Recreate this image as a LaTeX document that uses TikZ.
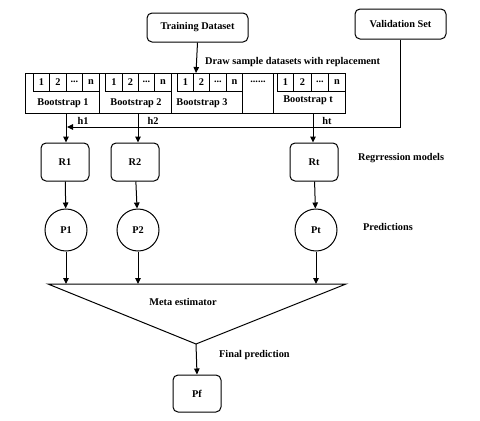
\documentclass[tikz,border=0pt]{standalone}
\usepackage{fontspec}
\setmainfont{Liberation Serif}
\usetikzlibrary{arrows.meta}
\begin{document}
\begin{tikzpicture}[x=1pt,y=-1pt,
  every node/.style={font=\bfseries\fontsize{10.3}{12}\selectfont, inner sep=0pt},
  rbox/.style={draw, line width=1pt, rounded corners=5pt},
  cell/.style={draw, line width=0.9pt, anchor=north west},
  pcirc/.style={draw, line width=1pt, circle, minimum size=42pt},
  arr/.style={line width=1pt, -{Triangle[length=6pt,width=5.5pt]}},
  lbl/.style={anchor=center}]
\useasboundingbox (0,0) rectangle (480,421);
% top boxes
\node[rbox, minimum width=101pt, minimum height=29pt] (train) at (197.5,27.5) {Training Dataset};
\node[rbox, minimum width=91pt, minimum height=30pt] (val) at (400.5,24) {Validation Set};
% bootstrap row
\node[cell, minimum width=74pt, minimum height=40pt] (b1) at (25,73) {};
\node[cell, minimum width=72pt, minimum height=40pt] (b2) at (99,73) {};
\node[cell, minimum width=71pt, minimum height=40pt] (b3) at (171,73) {};
\node[cell, minimum width=31pt, minimum height=40pt] (bd) at (242,73) {};
\node[cell, minimum width=72pt, minimum height=40pt] (bt) at (273,73) {};
% inner cells
\foreach \n/\xa/\xb/\xc/\xd/\xe in {1/33/49/66/82/99, 2/105/122/138/154/171, 3/177/193/209/226/242, t/277/293/311/328/345}{
  \node[cell, minimum width=\xb pt-\xa pt, minimum height=18pt] (c\n a) at (\xa,73) {1};
  \node[cell, minimum width=\xc pt-\xb pt, minimum height=18pt] (c\n b) at (\xb,73) {2};
  \node[cell, minimum width=\xd pt-\xc pt, minimum height=18pt] (c\n c) at (\xc,73) {\raisebox{1pt}{...}};
  \node[cell, minimum width=\xe pt-\xd pt, minimum height=18pt] (c\n d) at (\xd,73) {n};
}
\node (dots) at (258,82) {......};
\node (l1) at (63,103) {Bootstrap 1};
\node (l2) at (136,103) {Bootstrap 2};
\node (l3) at (202,103) {Bootstrap 3};
\node (lt) at (308,100) {Bootstrap t};
\node[anchor=west] (draw) at (205,62) {Draw sample datasets with replacement};
\draw[arr] (train.south) -- (196,73);
% regression boxes
\node[rbox, minimum width=48pt, minimum height=38pt] (R1) at (65,162) {R1};
\node[rbox, minimum width=48pt, minimum height=38pt] (R2) at (135,162) {R2};
\node[rbox, minimum width=48pt, minimum height=38pt] (Rt) at (314,162) {Rt};
\node[anchor=west] (regl) at (358,158) {Regrression models};
\coordinate (h1top) at (66,113);
\coordinate (h2top) at (138,113);
\coordinate (httop) at (313,113);
\draw[arr] (h1top) -- (h1top |- R1.north);
\draw[arr] (h2top) -- (h2top |- R2.north);
\draw[arr] (httop) -- (httop |- Rt.north);
\coordinate (vj) at (67,127);
\draw[arr] (val.south) |- (vj);
\node (h1) at (83,121) {h1};
\node (h2) at (153,121) {h2};
\node (ht) at (327,121) {ht};
% predictions
\node[pcirc] (P1) at (66,230) {P1};
\node[pcirc] (P2) at (138,230) {P2};
\node[pcirc] (Pt) at (316,230) {Pt};
\node[anchor=west] (predl) at (363,227) {Predictions};
\draw[arr] (R1) -- (P1);
\draw[arr] (R2) -- (P2);
\draw[arr] (Rt) -- (Pt);
% meta estimator triangle
\coordinate (tl) at (48,284);
\coordinate (tr) at (346,284);
\coordinate (apex) at (196,344);
\draw[line width=1pt, line join=miter] (tl) -- (tr) -- (apex) -- cycle;
\draw[arr] (P1.south) -- (P1.south |- tl);
\draw[arr] (P2.south) -- (P2.south |- tl);
\draw[arr] (Pt.south) -- (Pt.south |- tl);
\node (meta) at (183,302) {Meta estimator};
% final
\node[rbox, minimum width=48pt, minimum height=37pt] (Pf) at (197,393.5) {Pf};
\draw[arr] (apex) -- (Pf.north);
\node[anchor=west] (finl) at (219,355) {Final prediction};
\end{tikzpicture}
\end{document}
